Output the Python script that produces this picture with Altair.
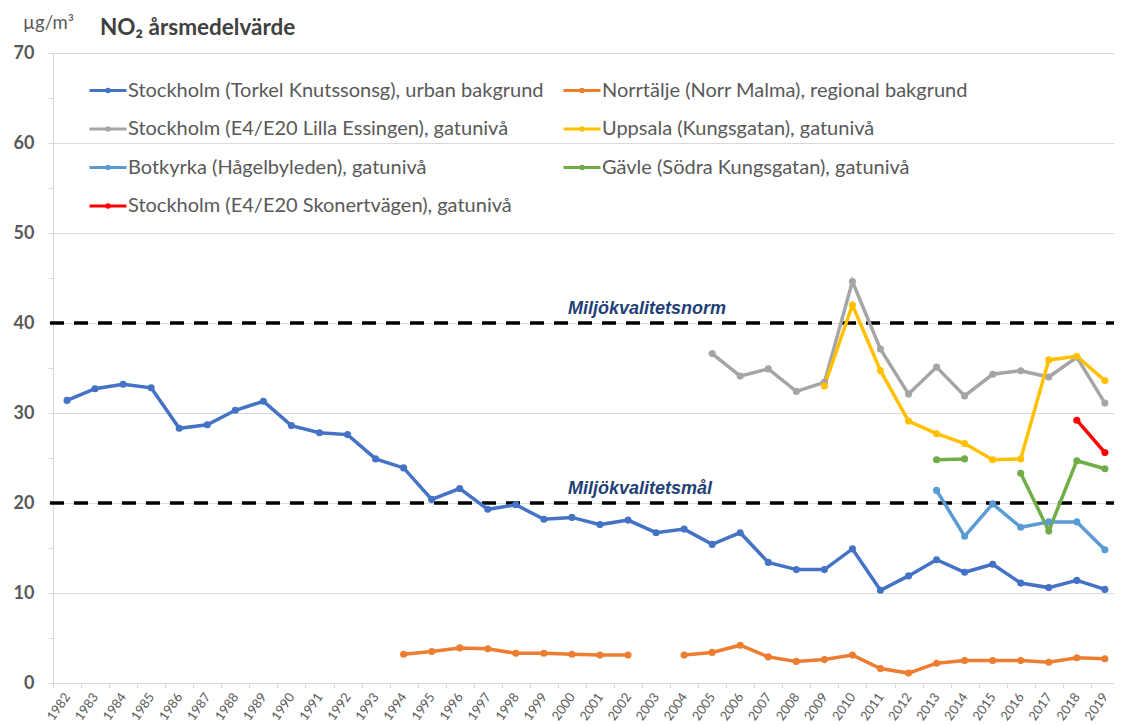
import altair as alt
import pandas as pd

years = [str(y) for y in range(1982, 2020)]

series_names = [
    "Stockholm (Torkel Knutssonsg), urban bakgrund",
    "Stockholm (E4/E20 Lilla Essingen), gatunivå",
    "Botkyrka (Hågelbyleden), gatunivå",
    "Stockholm (E4/E20 Skonertvägen), gatunivå",
    "Norrtälje (Norr Malma), regional bakgrund",
    "Uppsala (Kungsgatan), gatunivå",
    "Gävle (Södra Kungsgatan), gatunivå",
]
series_colors = ["#4472C4", "#A5A5A5", "#5B9BD5", "#FF0000", "#ED7D31", "#FFC000", "#70AD47"]

torkel = [31.4, 32.7, 33.2, 32.8, 28.3, 28.7, 30.3, 31.3, 28.6, 27.8, 27.6, 24.9, 23.9, 20.4,
          21.6, 19.3, 19.8, 18.2, 18.4, 17.6, 18.1, 16.7, 17.1, 15.4, 16.7, 13.4, 12.6, 12.6,
          14.9, 10.3, 11.9, 13.7, 12.3, 13.2, 11.1, 10.6, 11.4, 10.4]
essingen = [None] * 23 + [36.6, 34.1, 34.9, 32.4, 33.4, 44.6, 37.1, 32.1, 35.1, 31.9, 34.3,
                          34.7, 34.0, 36.2, 31.1]
botkyrka = [None] * 31 + [21.4, 16.3, 19.9, 17.3, 17.9, 17.9, 14.8]
skonert = [None] * 36 + [29.2, 25.6]
norrtalje = [None] * 12 + [3.2, 3.5, 3.9, 3.8, 3.3, 3.3, 3.2, 3.1, 3.1, None, 3.1, 3.4, 4.2,
                           2.9, 2.4, 2.6, 3.1, 1.6, 1.1, 2.2, 2.5, 2.5, 2.5, 2.3, 2.8, 2.7]
uppsala = [None] * 27 + [33.0, 42.0, 34.7, 29.1, 27.7, 26.6, 24.8, 24.9, 35.9, 36.3, 33.6]
gavle = [None] * 31 + [24.8, 24.9, None, 23.3, 16.9, 24.7, 23.8]

all_series = [torkel, essingen, botkyrka, skonert, norrtalje, uppsala, gavle]
draw_order = [0, 4, 1, 5, 2, 6, 3]

ref_labels = ["Miljökvalitetsnorm", "Miljökvalitetsmål"]
ref_values = [40, 20]

unit_text = ["µg/m³"]
title_text = ["NO₂ årsmedelvärde"]

rows = []
for i in draw_order:
    for yr, v in zip(years, all_series[i]):
        rows.append({"serie": series_names[i], "year": yr, "value": v, "order": draw_order.index(i)})
df = pd.DataFrame(rows)
ref_df = pd.DataFrame({"label": ref_labels, "value": ref_values})

W = 1061
H = 630
STEP = 28.05
FONT = "Lato"

x_scale = alt.Scale(type="band", domain=years, range=[0, STEP * len(years)],
                    paddingInner=0, paddingOuter=0)
y_scale = alt.Scale(domain=[0, 70], nice=False)

legend_symbol = "M-1,0L1,0M-0.07,0A0.07,0.07,0,1,0,0.07,0A0.07,0.07,0,1,0,-0.07,0Z"

lines = alt.Chart(df).mark_line(
    strokeWidth=3.5,
    point=alt.OverlayMarkDef(size=50, filled=True),
).encode(
    x=alt.X("year:O", scale=x_scale, bandPosition=0.5,
            axis=alt.Axis(title=None, labelAngle=-55, labelAlign="right", labelBaseline="middle",
                          labelFontSize=13, labelColor="#595959", labelFont=FONT,
                          labelPadding=6, tickBand="extent", tickColor="#D9D9D9",
                          tickSize=5, domainColor="#D9D9D9", grid=False)),
    y=alt.Y("value:Q", scale=y_scale,
            axis=alt.Axis(title=None, values=list(range(0, 75, 5)),
                          labelExpr="datum.value % 10 === 0 ? datum.label : ''",
                          labelFontSize=18, labelFontWeight="bold", labelColor="#595959",
                          labelFont=FONT, labelPadding=14, tickColor="#D9D9D9", tickSize=5,
                          domainColor="#D9D9D9", gridColor="#D9D9D9",
                          gridOpacity={"condition": {"test": "datum.value % 10 === 0", "value": 1},
                                       "value": 0})),
    color=alt.Color("serie:N", scale=alt.Scale(domain=series_names, range=series_colors),
                    legend=alt.Legend(orient="none", legendX=35, legendY=17.5, columns=2,
                                      title=None, symbolType=legend_symbol, symbolSize=1369,
                                      symbolStrokeWidth=3, labelFontSize=20, labelFont=FONT,
                                      labelColor="#595959", labelOffset=0, labelLimit=700,
                                      rowPadding=8.5, columnPadding=13, padding=0)),
    order="order:Q",
    detail="serie:N",
)

rules = alt.Chart(ref_df).mark_rule(color="black", strokeWidth=3.5, strokeDash=[14, 10]).encode(
    y=alt.Y("value:Q", scale=y_scale),
    x=alt.value(-3),
    x2=alt.value(W),
)

ref_text = alt.Chart(ref_df).mark_text(
    align="left", baseline="middle", dy=-14, fontSize=18, fontWeight="bold",
    fontStyle="italic", font="Liberation Sans", color="#1F3F77",
).encode(
    y=alt.Y("value:Q", scale=y_scale),
    x=alt.value(515),
    text="label:N",
)

unit = alt.Chart(pd.DataFrame({"t": unit_text})).mark_text(
    align="left", baseline="middle", fontSize=18.5, font=FONT, color="#595959",
).encode(x=alt.value(-30), y=alt.value(-30), text="t:N")

title = alt.Chart(pd.DataFrame({"t": title_text})).mark_text(
    align="left", baseline="middle", fontSize=22.5, fontWeight="bold", font=FONT, color="#404040",
).encode(x=alt.value(47), y=alt.value(-25), text="t:N")

chart = alt.layer(rules, lines, ref_text, unit, title).properties(
    width=W, height=H,
    autosize=alt.AutoSizeParams(type="none"),
    padding={"left": 45, "top": 45, "right": 0, "bottom": 42},
).configure_view(stroke=None).configure(background="white")

chart.save("out.html", embed_options={"renderer": "svg", "actions": False})
